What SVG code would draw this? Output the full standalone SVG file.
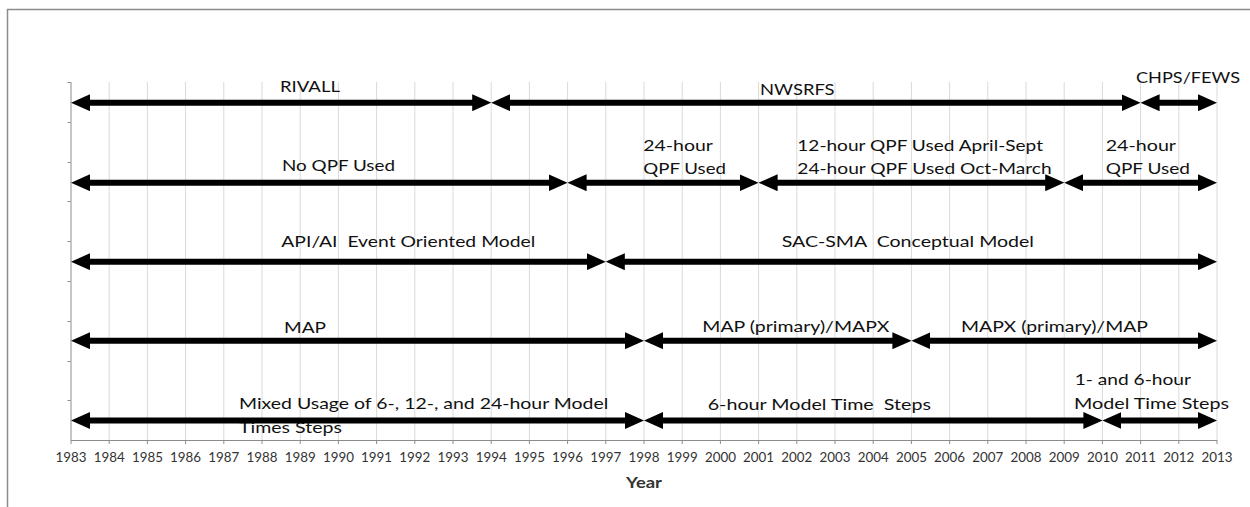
<svg xmlns="http://www.w3.org/2000/svg" width="1250" height="507" viewBox="0 0 1250 507">
<style>
.lbl{font-family:Lato,"Liberation Sans",sans-serif;font-size:16px;fill:#111;white-space:pre}
.yr{font-family:Lato,"Liberation Sans",sans-serif;font-size:13px;fill:#333;text-anchor:middle}
.ttl{font-family:Lato,"Liberation Sans",sans-serif;font-size:15px;font-weight:bold;fill:#333;text-anchor:middle}
.grid line{stroke:#d9d9d9;stroke-width:1}
.axis{stroke:#8c8c8c;stroke-width:1;fill:none}
.arr{stroke:#000;stroke-width:6;fill:none;marker-start:url(#ah);marker-end:url(#ah)}
</style>
<defs>
<marker id="ah" markerUnits="userSpaceOnUse" markerWidth="19" markerHeight="17" viewBox="0 0 19 17" refX="9" refY="8.5" orient="auto-start-reverse"><path d="M0,0 L19,8.5 L0,17 z" fill="#000"/></marker>
</defs>
<rect x="0" y="0" width="1250" height="507" fill="#fff"/>
<rect id="frame" x="7.5" y="9.5" width="1300" height="600" fill="none" stroke="#8c8c8c" stroke-width="1.5"/>
<g id="grid" class="grid">
<line x1="109.2" y1="82" x2="109.2" y2="440"/><line x1="147.4" y1="82" x2="147.4" y2="440"/><line x1="185.6" y1="82" x2="185.6" y2="440"/><line x1="223.8" y1="82" x2="223.8" y2="440"/><line x1="262" y1="82" x2="262" y2="440"/><line x1="300.2" y1="82" x2="300.2" y2="440"/><line x1="338.4" y1="82" x2="338.4" y2="440"/><line x1="376.6" y1="82" x2="376.6" y2="440"/><line x1="414.8" y1="82" x2="414.8" y2="440"/><line x1="453" y1="82" x2="453" y2="440"/><line x1="491.2" y1="82" x2="491.2" y2="440"/><line x1="529.4" y1="82" x2="529.4" y2="440"/><line x1="567.6" y1="82" x2="567.6" y2="440"/><line x1="605.8" y1="82" x2="605.8" y2="440"/><line x1="644" y1="82" x2="644" y2="440"/><line x1="682.2" y1="82" x2="682.2" y2="440"/><line x1="720.4" y1="82" x2="720.4" y2="440"/><line x1="758.6" y1="82" x2="758.6" y2="440"/><line x1="796.8" y1="82" x2="796.8" y2="440"/><line x1="835" y1="82" x2="835" y2="440"/><line x1="873.2" y1="82" x2="873.2" y2="440"/><line x1="911.4" y1="82" x2="911.4" y2="440"/><line x1="949.6" y1="82" x2="949.6" y2="440"/><line x1="987.8" y1="82" x2="987.8" y2="440"/><line x1="1026" y1="82" x2="1026" y2="440"/><line x1="1064.2" y1="82" x2="1064.2" y2="440"/><line x1="1102.4" y1="82" x2="1102.4" y2="440"/><line x1="1140.6" y1="82" x2="1140.6" y2="440"/><line x1="1178.8" y1="82" x2="1178.8" y2="440"/><line x1="1217" y1="82" x2="1217" y2="440"/>
</g>
<g id="axes">
<line class="axis" x1="71" y1="82" x2="71" y2="440" stroke="#bfbfbf"/>
<path class="axis" d="M67.5,82.5h3M67.5,122.5h3M67.5,162.5h3M67.5,201.5h3M67.5,241.5h3M67.5,281.5h3M67.5,321.5h3M67.5,361.5h3M67.5,400.5h3"/>
<line class="axis" x1="71" y1="440.5" x2="1217" y2="440.5"/>
<path class="axis" d="M71,440v4M109.2,440v4M147.4,440v4M185.6,440v4M223.8,440v4M262,440v4M300.2,440v4M338.4,440v4M376.6,440v4M414.8,440v4M453,440v4M491.2,440v4M529.4,440v4M567.6,440v4M605.8,440v4M644,440v4M682.2,440v4M720.4,440v4M758.6,440v4M796.8,440v4M835,440v4M873.2,440v4M911.4,440v4M949.6,440v4M987.8,440v4M1026,440v4M1064.2,440v4M1102.4,440v4M1140.6,440v4M1178.8,440v4M1217,440v4"/>
<g id="year-labels" lengthAdjust="spacingAndGlyphs">
<text class="yr" x="71" y="461.7" textLength="31" lengthAdjust="spacingAndGlyphs">1983</text><text class="yr" x="109.2" y="461.7" textLength="31" lengthAdjust="spacingAndGlyphs">1984</text><text class="yr" x="147.4" y="461.7" textLength="31" lengthAdjust="spacingAndGlyphs">1985</text><text class="yr" x="185.6" y="461.7" textLength="31" lengthAdjust="spacingAndGlyphs">1986</text><text class="yr" x="223.8" y="461.7" textLength="31" lengthAdjust="spacingAndGlyphs">1987</text><text class="yr" x="262" y="461.7" textLength="31" lengthAdjust="spacingAndGlyphs">1988</text><text class="yr" x="300.2" y="461.7" textLength="31" lengthAdjust="spacingAndGlyphs">1989</text><text class="yr" x="338.4" y="461.7" textLength="31" lengthAdjust="spacingAndGlyphs">1990</text><text class="yr" x="376.6" y="461.7" textLength="31" lengthAdjust="spacingAndGlyphs">1991</text><text class="yr" x="414.8" y="461.7" textLength="31" lengthAdjust="spacingAndGlyphs">1992</text><text class="yr" x="453" y="461.7" textLength="31" lengthAdjust="spacingAndGlyphs">1993</text><text class="yr" x="491.2" y="461.7" textLength="31" lengthAdjust="spacingAndGlyphs">1994</text><text class="yr" x="529.4" y="461.7" textLength="31" lengthAdjust="spacingAndGlyphs">1995</text><text class="yr" x="567.6" y="461.7" textLength="31" lengthAdjust="spacingAndGlyphs">1996</text><text class="yr" x="605.8" y="461.7" textLength="31" lengthAdjust="spacingAndGlyphs">1997</text><text class="yr" x="644" y="461.7" textLength="31" lengthAdjust="spacingAndGlyphs">1998</text><text class="yr" x="682.2" y="461.7" textLength="31" lengthAdjust="spacingAndGlyphs">1999</text><text class="yr" x="720.4" y="461.7" textLength="31" lengthAdjust="spacingAndGlyphs">2000</text><text class="yr" x="758.6" y="461.7" textLength="31" lengthAdjust="spacingAndGlyphs">2001</text><text class="yr" x="796.8" y="461.7" textLength="31" lengthAdjust="spacingAndGlyphs">2002</text><text class="yr" x="835" y="461.7" textLength="31" lengthAdjust="spacingAndGlyphs">2003</text><text class="yr" x="873.2" y="461.7" textLength="31" lengthAdjust="spacingAndGlyphs">2004</text><text class="yr" x="911.4" y="461.7" textLength="31" lengthAdjust="spacingAndGlyphs">2005</text><text class="yr" x="949.6" y="461.7" textLength="31" lengthAdjust="spacingAndGlyphs">2006</text><text class="yr" x="987.8" y="461.7" textLength="31" lengthAdjust="spacingAndGlyphs">2007</text><text class="yr" x="1026" y="461.7" textLength="31" lengthAdjust="spacingAndGlyphs">2008</text><text class="yr" x="1064.2" y="461.7" textLength="31" lengthAdjust="spacingAndGlyphs">2009</text><text class="yr" x="1102.4" y="461.7" textLength="31" lengthAdjust="spacingAndGlyphs">2010</text><text class="yr" x="1140.6" y="461.7" textLength="31" lengthAdjust="spacingAndGlyphs">2011</text><text class="yr" x="1178.8" y="461.7" textLength="31" lengthAdjust="spacingAndGlyphs">2012</text><text class="yr" x="1217" y="461.7" textLength="31" lengthAdjust="spacingAndGlyphs">2013</text>
</g>
<text class="ttl" x="644" y="488.3" textLength="36" lengthAdjust="spacingAndGlyphs">Year</text>
</g>
<g id="n-rivall"><text class="lbl" x="280" y="91.7" textLength="60" lengthAdjust="spacingAndGlyphs">RIVALL</text></g>
<g id="n-nwsrfs"><text class="lbl" x="760" y="95" textLength="74.5" lengthAdjust="spacingAndGlyphs">NWSRFS</text></g>
<g id="n-chps"><text class="lbl" x="1136" y="82.7" textLength="104" lengthAdjust="spacingAndGlyphs">CHPS/FEWS</text></g>
<g id="n-noqpf"><text class="lbl" x="282" y="170.7" textLength="113" lengthAdjust="spacingAndGlyphs">No QPF Used</text></g>
<g id="n-qpf24a"><text class="lbl" x="643.3" y="150.7" textLength="69.5" lengthAdjust="spacingAndGlyphs">24-hour</text><text class="lbl" x="643.3" y="174" textLength="82.7" lengthAdjust="spacingAndGlyphs">QPF Used</text></g>
<g id="n-qpf12"><text class="lbl" x="797.3" y="150.7" textLength="245.7" lengthAdjust="spacingAndGlyphs">12-hour QPF Used April-Sept</text><text class="lbl" x="797.3" y="174" textLength="254.4" lengthAdjust="spacingAndGlyphs">24-hour QPF Used Oct-March</text></g>
<g id="n-qpf24b"><text class="lbl" x="1105.7" y="150.5" textLength="70.3" lengthAdjust="spacingAndGlyphs">24-hour</text><text class="lbl" x="1105.7" y="173.5" textLength="84.3" lengthAdjust="spacingAndGlyphs">QPF Used</text></g>
<g id="n-api"><text class="lbl" x="281.3" y="246.7" textLength="254" lengthAdjust="spacingAndGlyphs">API/AI  Event Oriented Model</text></g>
<g id="n-sac"><text class="lbl" x="781.7" y="246.7" textLength="252.3" lengthAdjust="spacingAndGlyphs">SAC-SMA  Conceptual Model</text></g>
<g id="n-map"><text class="lbl" x="284" y="333.3" textLength="42" lengthAdjust="spacingAndGlyphs">MAP</text></g>
<g id="n-mapprim"><text class="lbl" x="702.3" y="332" textLength="187" lengthAdjust="spacingAndGlyphs">MAP (primary)/MAPX</text></g>
<g id="n-mapxprim"><text class="lbl" x="961" y="332" textLength="187" lengthAdjust="spacingAndGlyphs">MAPX (primary)/MAP</text></g>
<g id="n-mixed"><text class="lbl" x="239" y="409.3" textLength="369.3" lengthAdjust="spacingAndGlyphs">Mixed Usage of 6-, 12-, and 24-hour Model</text><text class="lbl" x="239" y="433.3" textLength="103" lengthAdjust="spacingAndGlyphs">Times Steps</text></g>
<g id="n-6h"><text class="lbl" x="707.7" y="410" textLength="223.3" lengthAdjust="spacingAndGlyphs">6-hour Model Time  Steps</text></g>
<g id="n-1h"><text class="lbl" x="1074.7" y="385" textLength="116.3" lengthAdjust="spacingAndGlyphs">1- and 6-hour</text><text class="lbl" x="1074" y="409.3" textLength="155" lengthAdjust="spacingAndGlyphs">Model Time Steps</text></g>
<g id="connectors">
<line class="arr" x1="81" y1="102.7" x2="481.2" y2="102.7"/>
<line class="arr" x1="501.2" y1="102.7" x2="1130.6" y2="102.7"/>
<line class="arr" x1="1150.6" y1="102.7" x2="1207" y2="102.7"/>
<line class="arr" x1="81" y1="182.7" x2="557.6" y2="182.7"/>
<line class="arr" x1="577.6" y1="182.7" x2="748.6" y2="182.7"/>
<line class="arr" x1="768.6" y1="182.7" x2="1054.2" y2="182.7"/>
<line class="arr" x1="1074.2" y1="182.7" x2="1207" y2="182.7"/>
<line class="arr" x1="81" y1="261.7" x2="595.8" y2="261.7"/>
<line class="arr" x1="615.8" y1="261.7" x2="1207" y2="261.7"/>
<line class="arr" x1="81" y1="340.7" x2="634" y2="340.7"/>
<line class="arr" x1="654" y1="340.7" x2="901.4" y2="340.7"/>
<line class="arr" x1="921.4" y1="340.7" x2="1207" y2="340.7"/>
<line class="arr" x1="81" y1="420.5" x2="634" y2="420.5"/>
<line class="arr" x1="654" y1="420.5" x2="1092.4" y2="420.5"/>
<line class="arr" x1="1112.4" y1="420.5" x2="1207" y2="420.5"/>
</g>
</svg>
